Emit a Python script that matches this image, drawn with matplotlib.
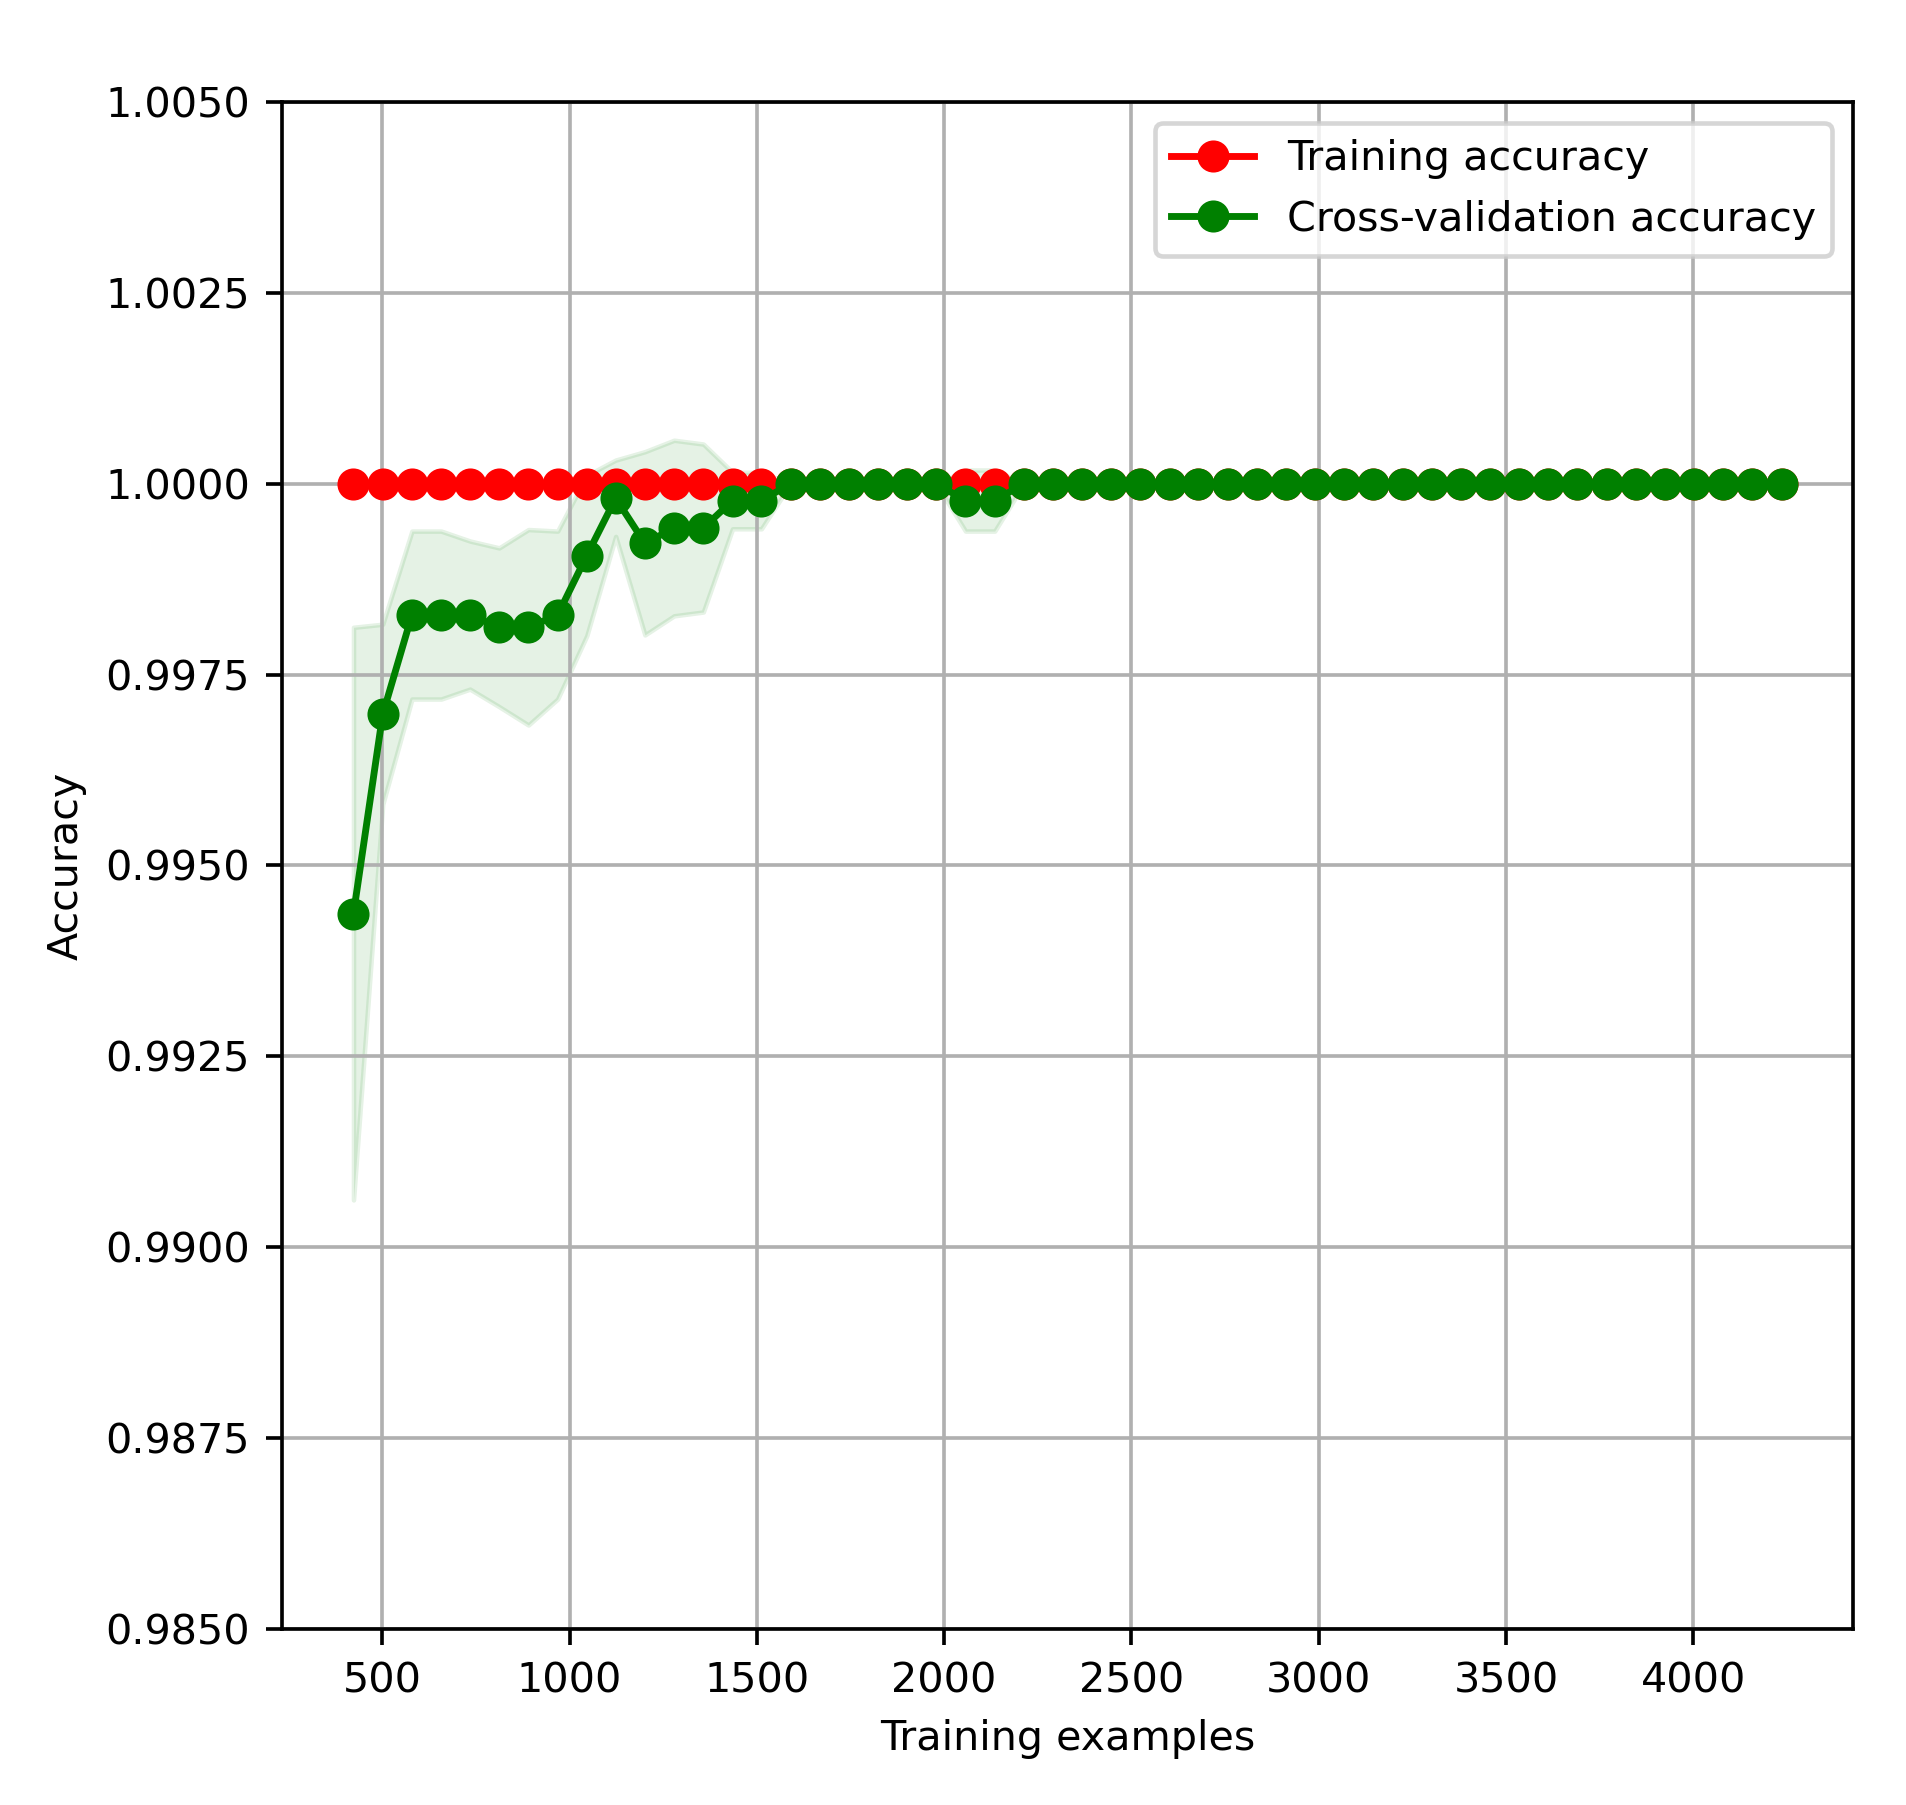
import matplotlib
matplotlib.use("Agg")
import matplotlib.pyplot as plt
from matplotlib.ticker import FormatStrFormatter
import numpy as np

# --- learning curve values ---
train_sizes = [
    423, 501, 579, 657, 734, 812, 890, 968, 1046, 1123,
    1201, 1279, 1357, 1435, 1512, 1590, 1668, 1746, 1824, 1901,
    1979, 2057, 2135, 2213, 2290, 2368, 2446, 2524, 2602, 2679,
    2757, 2835, 2913, 2991, 3068, 3146, 3224, 3302, 3380, 3457,
    3535, 3613, 3691, 3769, 3846, 3924, 4002, 4080, 4158, 4236,
]
train_mean = [
    1.0, 1.0, 1.0, 1.0, 1.0, 1.0, 1.0, 1.0, 1.0, 1.0,
    1.0, 1.0, 1.0, 1.0, 1.0, 1.0, 1.0, 1.0, 1.0, 1.0,
    1.0, 1.0, 1.0, 1.0, 1.0, 1.0, 1.0, 1.0, 1.0, 1.0,
    1.0, 1.0, 1.0, 1.0, 1.0, 1.0, 1.0, 1.0, 1.0, 1.0,
    1.0, 1.0, 1.0, 1.0, 1.0, 1.0, 1.0, 1.0, 1.0, 1.0,
]
cv_mean = [
    0.99437, 0.99698, 0.99828, 0.99828, 0.99828, 0.99812, 0.99812, 0.99828, 0.99906, 0.99981,
    0.99922, 0.99942, 0.99942, 0.99978, 0.99978, 1.0, 1.0, 1.0, 1.0, 1.0,
    1.0, 0.99978, 0.99978, 1.0, 1.0, 1.0, 1.0, 1.0, 1.0, 1.0,
    1.0, 1.0, 1.0, 1.0, 1.0, 1.0, 1.0, 1.0, 1.0, 1.0,
    1.0, 1.0, 1.0, 1.0, 1.0, 1.0, 1.0, 1.0, 1.0, 1.0,
]
cv_std = [
    0.00375, 0.00118, 0.00110, 0.00110, 0.00097, 0.00104, 0.00128, 0.00110, 0.00105, 0.00050,
    0.00120, 0.00115, 0.00110, 0.00037, 0.00037, 0.0, 0.0, 0.0, 0.0, 0.0,
    0.0, 0.00040, 0.00040, 0.0, 0.0, 0.0, 0.0, 0.0, 0.0, 0.0,
    0.0, 0.0, 0.0, 0.0, 0.0, 0.0, 0.0, 0.0, 0.0, 0.0,
    0.0, 0.0, 0.0, 0.0, 0.0, 0.0, 0.0, 0.0, 0.0, 0.0,
]
y_ticks = [0.9850, 0.9875, 0.9900, 0.9925, 0.9950, 0.9975, 1.0000, 1.0025, 1.0050]

# render at a high dpi so the default matplotlib sizes scale up like the reference
DPI = 330
plt.rcParams["font.size"] = 9

fig = plt.figure(figsize=(1906 / DPI, 1805 / DPI), dpi=DPI)
ax = fig.add_axes([0.148, 0.0975, 0.8242, 0.846])

cv_mean_arr = np.array(cv_mean)
cv_std_arr = np.array(cv_std)

ax.fill_between(train_sizes, cv_mean_arr - cv_std_arr, cv_mean_arr + cv_std_arr,
                alpha=0.1, color="g")
ax.plot(train_sizes, train_mean, "o-", color="r", label="Training accuracy")
ax.plot(train_sizes, cv_mean, "o-", color="g", label="Cross-validation accuracy")

ax.set_ylim(0.985, 1.005)
ax.set_yticks(y_ticks)
ax.yaxis.set_major_formatter(FormatStrFormatter("%.4f"))
ax.set_xticks([500, 1000, 1500, 2000, 2500, 3000, 3500, 4000])
ax.set_xlabel("Training examples")
ax.set_ylabel("Accuracy")
ax.grid(True)
ax.legend(loc="best")

fig.savefig("out.png", dpi=DPI)
